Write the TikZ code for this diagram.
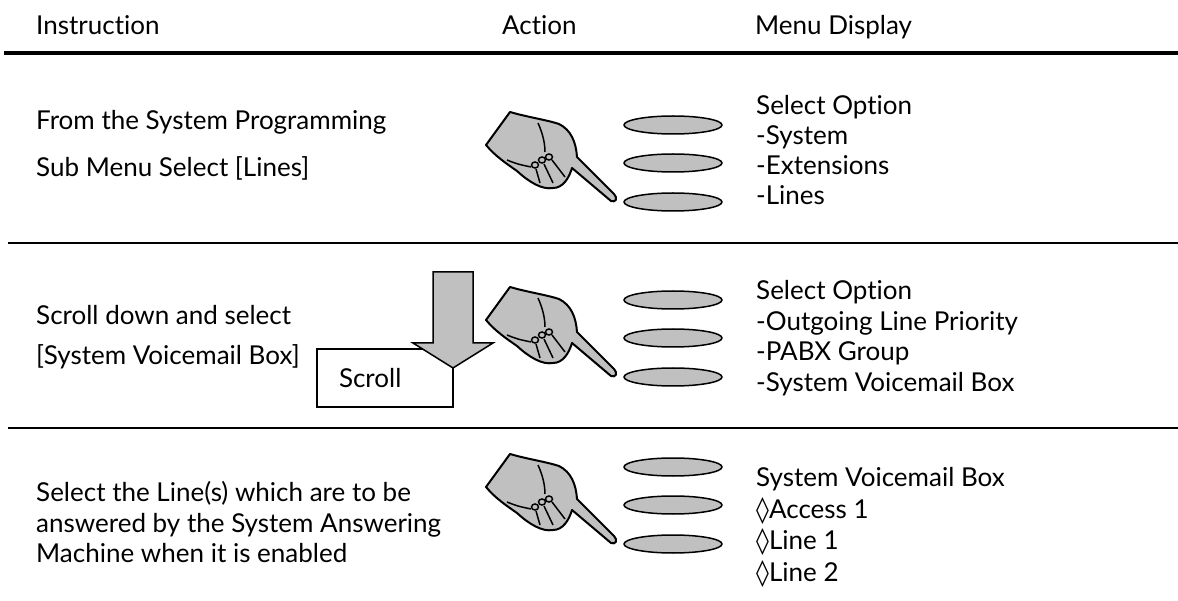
\documentclass[tikz,border=0pt]{standalone}
\usepackage{fontspec}
\setmainfont{Lato}[Ligatures=NoCommon]
\newfontfamily\symfont{DejaVu Sans}
\usetikzlibrary{shapes.geometric}

\definecolor{keygray}{HTML}{C0C0C0}
\newcommand\lozmark{{\symfont ◊}}

\begin{document}
\begin{tikzpicture}[x=1pt, y=-1pt,
    font=\fontsize{26}{31}\selectfont,
    txt/.style={anchor=base west, inner sep=0pt},
    key/.style={ellipse, draw, line width=1.5pt, fill=keygray,
      minimum width=98pt, minimum height=18pt, inner sep=0pt},
    rule/.style={line width=2pt},
    hand/.pic={
      % fist with the index finger pointing down to the right
      \filldraw[fill=keygray, line width=2pt, line join=round]
        (-1,33) -- (23,0) .. controls (40,5) and (60,8) .. (72,12)
        .. controls (84,18) and (89,30) .. (90,45) -- (127,82)
        .. controls (131,86) and (129,91) .. (124,89) -- (85,56)
        .. controls (82,66) and (76,76) .. (66,76)
        .. controls (55,78) and (42,70) .. (30,59)
        .. controls (20,52) and (8,44) .. cycle;
      \draw[line width=1.5pt] (51,11) .. controls (56,22) and (58,32) .. (58,40);
      \draw[line width=1.5pt] (20,48) .. controls (30,52) .. (44,55);
      \foreach \kx/\ky in {48/53, 55/48, 62/45}
        \draw[line width=1.5pt] (\kx,\ky) circle [x radius=3.5, y radius=3];
      \draw[line width=1.5pt] (49,57) .. controls (51,64) .. (53,71);
      \draw[line width=1.5pt] (57,52) .. controls (62,62) .. (66,71);
      \draw[line width=1.5pt] (65,48) .. controls (72,56) .. (78,65);
    }]
  \useasboundingbox (0,0) rectangle (1178,601);

  % column heads
  \node[txt] (hInstr) at (36,34.5) {Instruction};
  \node[txt] (hAction) at (502,34.5) {Action};
  \node[txt] (hMenu) at (755,34.5) {Menu Display};
  \draw[line width=4pt] (4,53) -- (1178,53);
  \draw[rule] (8,243) -- (1178,243);
  \draw[rule] (8,428) -- (1178,428);

  % instructions
  \node[txt] (instrA1) at (36,129.5) {From the System Programming};
  \node[txt] (instrA2) at (36,176.5) {Sub Menu Select [Lines]};
  \node[txt] (instrB1) at (36,324.5) {Scroll down and select};
  \node[txt] (instrB2) at (36,364.5) {[System Voicemail Box]};
  \foreach \t [count=\i] in {Select the Line(s) which are to be,
      answered by the System Answering,Machine when it is enabled}
    \node[txt] (instrC\i) at (36,{501.5+30.5*(\i-1)}) {\t};

  % hands and keys
  \foreach \dy [count=\r] in {0,175,342} {
    \pic (hand\r) at (487,{112+\dy}) {hand};
    \foreach \ky [count=\k] in {125,163,202}
      \node[key] (key\r\k) at (673,{\ky+\dy}) {};
  }

  % scroll box with the down arrow over it
  \node[draw, line width=1.5pt, fill=white, minimum width=136pt,
    minimum height=58pt, text width=92pt, align=left, inner sep=0pt]
    (scroll) at (385,378) {Scroll};
  \filldraw[fill=keygray, line width=1.5pt]
    (433,272) -- (473,272) -- (473,343) -- (493,343) -- (453,368)
    -- (413,343) -- (433,343) -- cycle;

  % menu display
  \foreach \m [count=\i] in {Select Option,-System,-Extensions,-Lines}
    \node[txt] (menuA\i) at (756,{114.5+30*(\i-1)}) {\m};
  \foreach \m [count=\i] in {Select Option,-Outgoing Line Priority,
      -PABX Group,-System Voicemail Box}
    \node[txt] (menuB\i) at (756,{299.5+30.7*(\i-1)}) {\m};
  \foreach \m [count=\i] in {System Voicemail Box,\lozmark Access 1,
      \lozmark Line 1,\lozmark Line 2}
    \node[txt] (menuC\i) at (756,{486.5+31.5*(\i-1)}) {\m};
\end{tikzpicture}
\end{document}
